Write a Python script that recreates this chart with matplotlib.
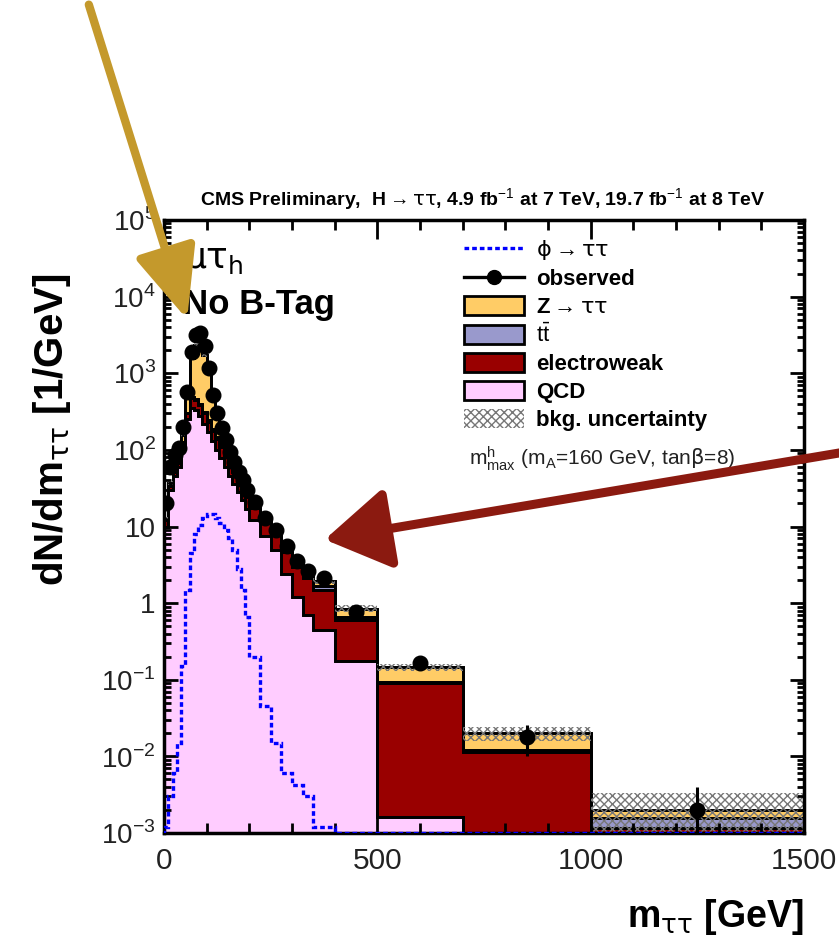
import numpy as np
import matplotlib.pyplot as plt
from matplotlib.patches import Patch, FancyArrowPatch
from matplotlib.lines import Line2D
from matplotlib.ticker import LogLocator, NullFormatter

plt.rcParams['font.family'] = ['Liberation Sans', 'DejaVu Sans']
plt.rcParams['mathtext.fontset'] = 'custom'
plt.rcParams['mathtext.rm'] = 'Liberation Sans'
plt.rcParams['mathtext.it'] = 'DejaVu Sans'
plt.rcParams['mathtext.bf'] = 'Liberation Sans:bold'
plt.rcParams['hatch.linewidth'] = 1.0

# bin edges of m_tautau [GeV]
edges = [0, 10, 20, 30, 40, 50, 60, 70, 80, 90, 100, 110, 120, 130, 140, 150,
         160, 170, 180, 190, 200, 225, 250, 275, 300, 325, 350, 400, 500, 700,
         1000, 1500]

# background components, dN/dm [1/GeV]
qcd = [10, 30, 45, 60, 110, 250, 350, 330, 280, 220, 170, 130, 100, 78, 60,
       46, 36, 28, 22, 17, 12, 7.5, 5.0, 2.4, 1.2, 0.7, 0.45, 0.175, 0.0016,
       0.0006, 0.0004]
ewk = [2, 4, 6, 8, 15, 50, 130, 120, 100, 80, 62, 48, 38, 30, 24, 19, 15, 12,
       9.5, 7.5, 5.5, 3.8, 3.0, 2.2, 1.8, 1.4, 1.05, 0.425, 0.089, 0.0108,
       0.00075]
ttbar = [0.2, 0.5, 1, 1.5, 2, 4, 8, 10, 11, 11, 10, 9, 8, 6.5, 5.5, 4.5, 3.5,
         2.8, 2.2, 1.8, 1.3, 0.9, 0.6, 0.4, 0.3, 0.2, 0.15, 0.05, 0.004,
         0.0008, 0.0004]
ztt = [0.5, 2, 5, 10, 30, 200, 1100, 1900, 1900, 1400, 800, 330, 150, 70, 35,
       20, 12, 8, 5.5, 4, 2.5, 1.3, 0.7, 0.45, 0.3, 0.22, 0.3, 0.2, 0.051,
       0.0078, 0.00045]
# relative background uncertainty
bkg_unc = [0.06] * 20 + [0.08] * 6 + [0.10, 0.10, 0.10, 0.20, 0.65]

# signal phi -> tautau (mhmax, mA=160, tanb=8)
signal = [0.0012, 0.003, 0.006, 0.015, 0.15, 1.5, 4.5, 8, 10.5, 13, 14.5,
          14.5, 13, 11, 9, 7, 5, 2.8, 1.5, 0.65, 0.2, 0.045, 0.015, 0.006,
          0.0042, 0.003, 0.0012, 0.001, 0.001, 0.001, 0.001]

# observed
observed = [20, 60, 85, 105, 200, 570, 1900, 3200, 3400, 2300, 1170, 525, 300,
            195, 135, 95, 70, 52, 40, 30, 21, 13, 9, 5.5, 3.6, 2.6, 2.1, 0.77,
            0.165, 0.0177, 0.002]

edges = np.array(edges, dtype=float)
widths = np.diff(edges)
centers = 0.5 * (edges[1:] + edges[:-1])
qcd, ewk, ttbar, ztt = map(np.array, (qcd, ewk, ttbar, ztt))
observed = np.array(observed)
obs_err = np.sqrt(observed * widths) / widths
obs_lo = np.minimum(obs_err, observed - 1e-6)

c1 = qcd
c2 = c1 + ewk
c3 = c2 + ttbar
c4 = c3 + ztt
unc = c4 * np.array(bkg_unc)

col_z = '#ffcc66'
col_tt = '#9999cc'
col_ewk = '#990000'
col_qcd = '#ffccff'

fig = plt.figure(figsize=(8.39, 9.49), dpi=100)
ax = fig.add_axes([0.1955, 0.1222, 0.7628, 0.6460])

base = 1e-7
for top, col in [(c4, col_z), (c3, col_tt), (c2, col_ewk), (c1, col_qcd)]:
    ax.stairs(top, edges, baseline=base, fill=True, facecolor=col,
              edgecolor='black', linewidth=2.0)
    ax.stairs(top, edges, baseline=base, fill=False, color='black',
              linewidth=2.0)

ax.stairs(c4 + unc, edges, baseline=c4 - unc, fill=True, facecolor='none',
          edgecolor='#777777', hatch='xxxx', linewidth=0)

ax.stairs(signal, edges, color='blue', linewidth=2.4,
          linestyle=(0, (1.4, 0.9)), zorder=4)

ax.errorbar(centers, observed, yerr=[obs_lo, obs_err], fmt='o', color='black',
            ms=10.5, elinewidth=2.2, capsize=0, zorder=5)

ax.set_yscale('log')
ax.set_xlim(0, 1500)
ax.set_ylim(1e-3, 1e5)

ax.set_xticks([0, 500, 1000, 1500])
ax.set_xticks(np.arange(0, 1501, 100), minor=True)
ax.set_xticklabels(['0', '500', '1000', '1500'])
yt = [1e-3, 1e-2, 1e-1, 1, 10, 1e2, 1e3, 1e4, 1e5]
ax.set_yticks(yt)
ax.set_yticklabels(['$10^{-3}$', '$10^{-2}$', '$10^{-1}$', '1', '10',
                    '$10^{2}$', '$10^{3}$', '$10^{4}$', '$10^{5}$'])
ax.yaxis.set_minor_locator(LogLocator(base=10, subs=np.arange(2, 10),
                                      numticks=20))
ax.yaxis.set_minor_formatter(NullFormatter())

ax.tick_params(axis='both', which='both', direction='in', top=True,
               right=True, width=2, colors='black', labelcolor='#222222',
               labelsize=20)
ax.tick_params(axis='x', which='major', length=14, pad=10, labelsize=21.5)
ax.tick_params(axis='x', which='minor', length=7)
ax.tick_params(axis='y', which='major', length=10, pad=6)
ax.tick_params(axis='y', which='minor', length=5)
for sp in ax.spines.values():
    sp.set_linewidth(2.5)

# legend
handles = [
    Line2D([], [], color='blue', lw=2.4, ls=(0, (1.4, 0.9))),
    Line2D([], [], color='black', lw=2.4, marker='o', ms=10),
    Patch(facecolor=col_z, edgecolor='black', lw=2),
    Patch(facecolor=col_tt, edgecolor='black', lw=2),
    Patch(facecolor=col_ewk, edgecolor='black', lw=2),
    Patch(facecolor=col_qcd, edgecolor='black', lw=2),
    Patch(facecolor='white', edgecolor='#777777', hatch='xxxx', lw=0),
]
labels = [r'$\phi\rightarrow\tau\tau$', 'observed', r'Z$\rightarrow\tau\tau$',
          r'$\mathrm{t\bar{t}}$', 'electroweak', 'QCD', 'bkg. uncertainty']
leg = ax.legend(handles, labels, loc='upper left',
                bbox_to_anchor=(0.468, 0.970), frameon=False,
                prop={'size': 16, 'weight': 'bold'}, handlelength=2.7,
                handleheight=0.9, labelspacing=0.27, handletextpad=0.55,
                borderpad=0, borderaxespad=0)

ax.text(0.476, 0.61, r'$\mathrm{m^{h}_{max}}$ ($\mathrm{m_{A}}$=160 GeV, tan$\beta$=8)',
        transform=ax.transAxes, fontsize=15, color='#222222', va='center')

ax.text(0.03, 0.935, r'$\mu\tau_{h}$', transform=ax.transAxes, fontsize=26,
        va='center')
ax.text(0.03, 0.862, 'No B-Tag', transform=ax.transAxes, fontsize=25,
        fontweight='bold', va='center')

fig.text(483 / 839, 1 - 200 / 949,
         r'CMS Preliminary,  H$\rightarrow\tau\tau$, 4.9 fb$^{-1}$ at 7 TeV, 19.7 fb$^{-1}$ at 8 TeV',
         ha='center', va='center', fontsize=14, fontweight='bold')

fig.text(52 / 839, 1 - 430 / 949, r'dN/dm$_{\tau\tau}$ [1/GeV]', rotation=90,
         ha='center', va='center', fontsize=29, fontweight='bold')
fig.text(804 / 839, 1 - 917 / 949, r'm$_{\tau\tau}$ [GeV]', ha='right',
         va='center', fontsize=27, fontweight='bold')

# hand drawn arrows
fig.patches.append(FancyArrowPatch(
    (88, 949 - 2), (188, 949 - 322), transform=None,
    arrowstyle='-|>,head_length=4.4,head_width=1.9', mutation_scale=10,
    color='#c4992c', linewidth=6))
fig.patches.append(FancyArrowPatch(
    (845, 949 - 452), (322, 949 - 540), transform=None,
    arrowstyle='-|>,head_length=4.0,head_width=2.5', mutation_scale=10,
    color='#8b1a10', linewidth=6.5))

fig.savefig('out.png', dpi=100)
